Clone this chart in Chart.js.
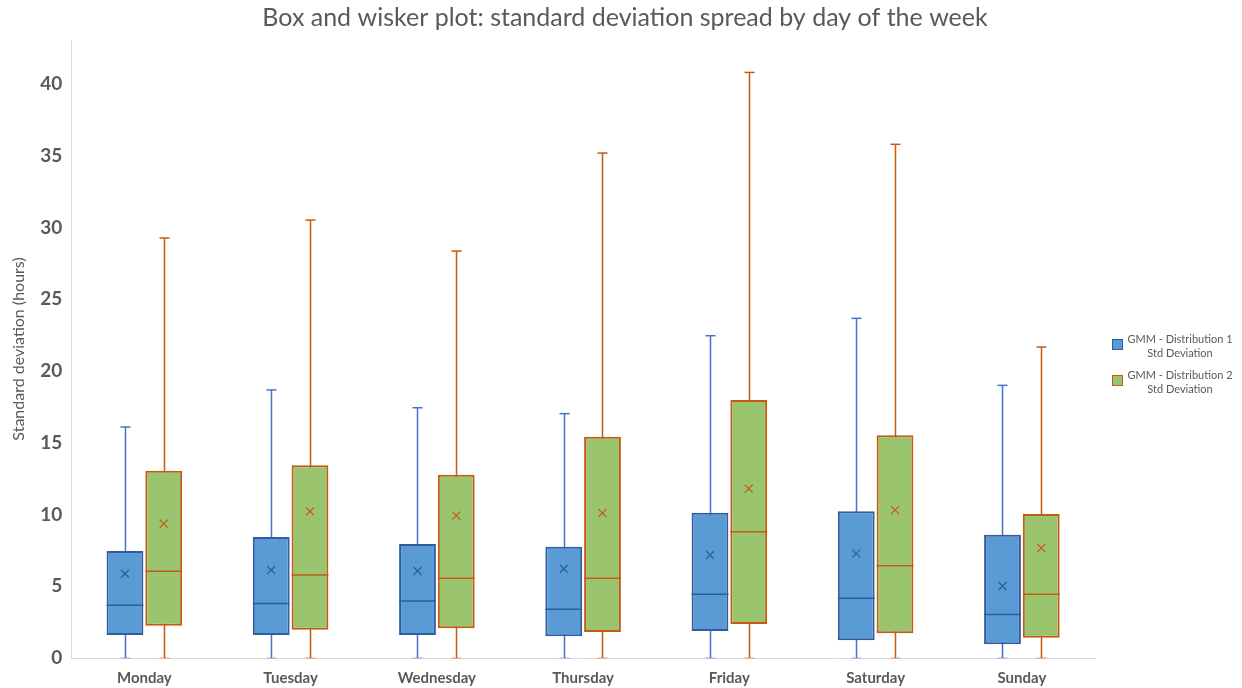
<!DOCTYPE html>
<html>
<head>
<meta charset="utf-8">
<script src="https://cdn.jsdelivr.net/npm/chart.js@4.4.1/dist/chart.umd.min.js"></script>
<style>
  html, body { margin: 0; padding: 0; background: #fff; }
  #wrap { width: 1242px; height: 688px; }
</style>
</head>
<body>
<div id="wrap"><canvas id="chart"></canvas></div>
<script>
const days = ['Monday', 'Tuesday', 'Wednesday', 'Thursday', 'Friday', 'Saturday', 'Sunday'];
const yTicks = [0, 5, 10, 15, 20, 25, 30, 35, 40];
const chartTitle = 'Box and wisker plot: standard deviation spread by day of the week';

// Distribution 1 std deviation (hours)
const dist1Min    = [0, 0, 0, 0, 0, 0, 0];
const dist1Q1     = [1.60, 1.60, 1.60, 1.51, 1.88, 1.23, 0.95];
const dist1Median = [3.67, 3.79, 3.97, 3.39, 4.44, 4.16, 3.04];
const dist1Q3     = [7.46, 8.43, 7.94, 7.76, 10.13, 10.22, 8.59];
const dist1Max    = [16.1, 18.68, 17.44, 17.03, 22.46, 23.67, 19.0];
const dist1Mean   = [5.87, 6.13, 6.06, 6.22, 7.18, 7.27, 5.02];

// Distribution 2 std deviation (hours)
const dist2Min    = [0, 0, 0, 0, 0, 0, 0];
const dist2Q1     = [2.25, 1.97, 2.07, 1.81, 2.37, 1.72, 1.41];
const dist2Median = [6.04, 5.78, 5.55, 5.55, 8.80, 6.43, 4.44];
const dist2Q3     = [13.05, 13.43, 12.77, 15.42, 17.98, 15.52, 10.03];
const dist2Max    = [29.27, 30.52, 28.36, 35.19, 40.81, 35.80, 21.67];
const dist2Mean   = [9.36, 10.22, 9.92, 10.10, 11.80, 10.31, 7.67];

const FONT = 'Lato, "Open Sans", sans-serif';
const GREY = '#595959';

const series = [
  {
    label: ['GMM - Distribution 1', 'Std Deviation'],
    min: dist1Min, q1: dist1Q1, median: dist1Median, q3: dist1Q3, max: dist1Max, mean: dist1Mean,
    fill: '#5B9BD5', border: '#2F5C9E', whisker: '#4472C4'
  },
  {
    label: ['GMM - Distribution 2', 'Std Deviation'],
    min: dist2Min, q1: dist2Q1, median: dist2Median, q3: dist2Q3, max: dist2Max, mean: dist2Mean,
    fill: '#9BC46F', border: '#C55A11', whisker: '#C55A11'
  }
];

function line(ctx, x1, y1, x2, y2) {
  ctx.beginPath();
  ctx.moveTo(x1, y1);
  ctx.lineTo(x2, y2);
  ctx.stroke();
}

// whiskers, medians, means, page title and the side legend
const boxParts = {
  id: 'boxParts',
  beforeDatasetsDraw(chart) {
    const ctx = chart.ctx;
    const y = chart.scales.y;
    ctx.save();
    series.forEach((s, di) => {
      chart.getDatasetMeta(di).data.forEach((bar, i) => {
        const x = Math.round(bar.x) + 0.5;
        const top = y.getPixelForValue(s.max[i]);
        const bottom = y.getPixelForValue(s.min[i]);
        ctx.strokeStyle = s.whisker;
        ctx.lineWidth = 1.5;
        line(ctx, x, top, x, bottom);
        line(ctx, x - 5, top, x + 5, top);
        ctx.globalAlpha = 0.35;
        line(ctx, x - 5, bottom, x + 5, bottom);
        ctx.globalAlpha = 1;
      });
    });
    ctx.restore();
  },
  afterDatasetsDraw(chart) {
    const ctx = chart.ctx;
    const y = chart.scales.y;
    ctx.save();
    series.forEach((s, di) => {
      chart.getDatasetMeta(di).data.forEach((bar, i) => {
        const half = bar.width / 2;
        ctx.strokeStyle = s.border;
        ctx.lineWidth = 1.5;
        const my = y.getPixelForValue(s.median[i]);
        line(ctx, bar.x - half, my, bar.x + half, my);
        // mean marker
        const ay = y.getPixelForValue(s.mean[i]);
        ctx.lineWidth = 1.2;
        line(ctx, bar.x - 4, ay - 4, bar.x + 4, ay + 4);
        line(ctx, bar.x - 4, ay + 4, bar.x + 4, ay - 4);
      });
    });
    ctx.restore();
  },
  afterDraw(chart) {
    const ctx = chart.ctx;
    ctx.save();
    // title centred on the whole canvas
    ctx.font = '25px ' + FONT;
    ctx.fillStyle = GREY;
    ctx.textAlign = 'center';
    ctx.textBaseline = 'middle';
    ctx.fillText(chartTitle, chart.width / 2 + 4, 18);

    const left = chart.chartArea.right + 17;
    ctx.font = '11px ' + FONT;
    series.forEach((s, i) => {
      const top = 339 + i * 36;
      ctx.fillStyle = s.fill;
      ctx.strokeStyle = s.border;
      ctx.lineWidth = 1;
      ctx.fillRect(left, top, 10, 10);
      ctx.strokeRect(left + 0.5, top + 0.5, 10, 10);
      ctx.fillStyle = GREY;
      ctx.fillText(s.label[0], left + 68, top);
      ctx.fillText(s.label[1], left + 68, top + 14);
    });
    ctx.restore();
  }
};

new Chart(document.getElementById('chart'), {
  type: 'bar',
  data: {
    labels: days,
    datasets: series.map(s => ({
      label: s.label.join(' '),
      data: s.q1.map((v, i) => [v, s.q3[i]]),
      backgroundColor: s.fill,
      borderColor: s.border,
      borderWidth: 2,
      borderSkipped: false,
      categoryPercentage: 0.53,
      barPercentage: 0.95
    }))
  },
  options: {
    responsive: true,
    maintainAspectRatio: false,
    animation: false,
    layout: { padding: { left: 9, right: 147, bottom: -10, top: 40 } },
    plugins: {
      legend: { display: false },
      tooltip: { enabled: false },
      title: { display: false }
    },
    scales: {
      x: {
        grid: { display: false, drawTicks: false },
        border: { color: '#D9D9D9', width: 1 },
        ticks: {
          color: GREY,
          padding: 11,
          font: { family: FONT, size: 15, weight: 'bold' }
        }
      },
      y: {
        min: 0,
        max: 43.07,
        grid: { display: false, drawTicks: false },
        border: { color: '#D9D9D9', width: 1 },
        afterBuildTicks(scale) {
          scale.ticks = yTicks.map(v => ({ value: v }));
        },
        ticks: {
          color: GREY,
          padding: 9,
          font: { family: FONT, size: 19, weight: 'bold' }
        },
        title: {
          display: true,
          text: 'Standard deviation (hours)',
          color: GREY,
          font: { family: FONT, size: 16, weight: 'normal' },
          padding: { top: 0, bottom: 3 }
        }
      }
    }
  },
  plugins: [boxParts]
});
</script>
</body>
</html>
